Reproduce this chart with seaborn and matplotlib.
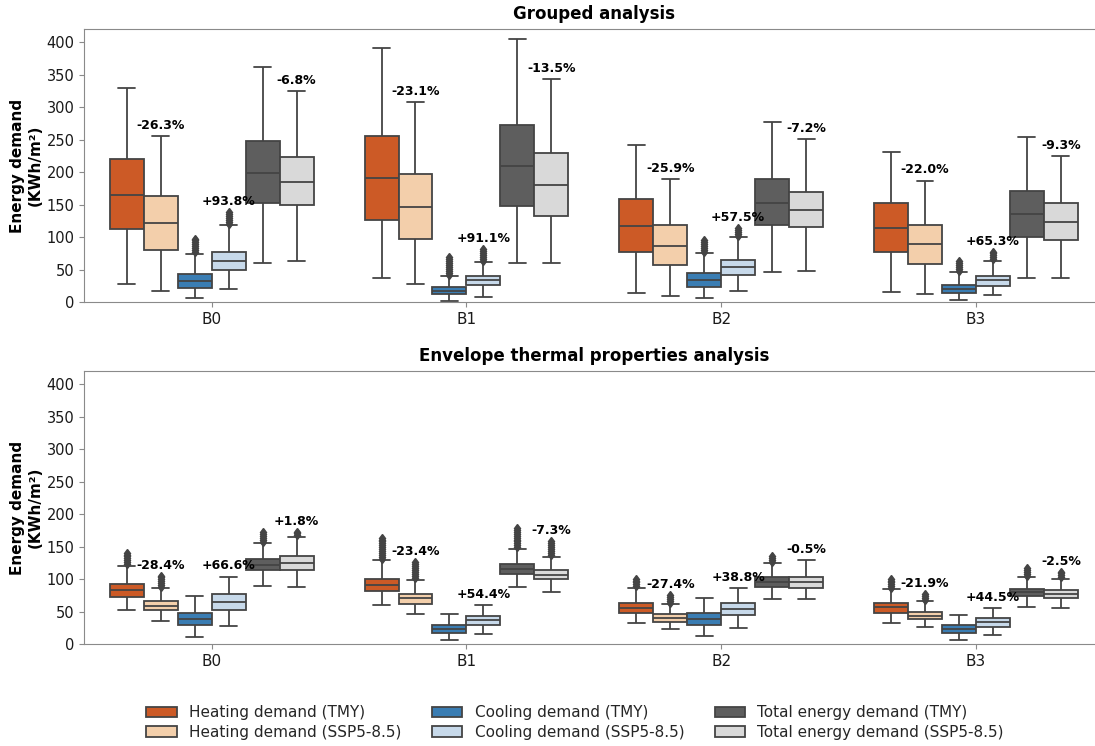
import numpy as np
import pandas as pd
import matplotlib
matplotlib.use("Agg")
import matplotlib.pyplot as plt
import seaborn as sns

# ---------------- data ----------------
groups = ["B0", "B1", "B2", "B3"]
series = ["Heating demand (TMY)", "Heating demand (SSP5-8.5)",
          "Cooling demand (TMY)", "Cooling demand (SSP5-8.5)",
          "Total energy demand (TMY)", "Total energy demand (SSP5-8.5)"]
palette = ["#cc5a26", "#f3cfab", "#3a7db3", "#c7d9ea", "#5e5e5e", "#d9d9d9"]

# box stats per series: (whisker low, q1, median, q3, whisker high) for B0..B3
# --- Grouped analysis ---
g_heat_tmy = [(28, 112, 165, 220, 329), (38, 127, 191, 256, 390), (15, 78, 117, 159, 242), (16, 77, 114, 153, 231)]
g_heat_ssp = [(18, 81, 122, 163, 256), (28, 97, 147, 197, 308), (10, 57, 87, 118, 189), (12, 59, 89, 119, 187)]
g_cool_tmy = [(6, 22.5, 32, 43.5, 74.8), (2, 12.3, 18, 23.5, 40), (6, 24, 34, 45, 76), (3.5, 14.3, 21, 27.1, 46)]
g_cool_ssp = [(20.5, 49, 63, 77.5, 119), (8.7, 26, 34, 41, 62), (18, 42, 54, 65.5, 100), (10.7, 25.5, 34, 41, 64)]
g_tot_tmy = [(60, 152, 198, 248, 361), (61, 148, 209, 272, 405), (47, 119, 153, 189, 277), (38, 101, 136, 171, 254)]
g_tot_ssp = [(63, 150, 185, 223, 325), (60, 133, 180, 230, 343), (48, 115, 142, 170, 251), (38, 96, 123, 152, 225)]
# outliers (None = no outliers)
g_cool_tmy_out = [[77, 80, 83, 86, 89, 92, 95, 98], [42, 45, 48, 51, 54, 57, 60, 63, 66, 69], [78, 81, 84, 87, 90, 93, 96], [48, 51, 54, 57, 60, 63]]
g_cool_ssp_out = [[121, 124, 127, 130, 133, 136, 138], [64, 67, 70, 73, 76, 79, 82], [102, 105, 108, 111, 114], [66, 69, 72, 75, 77]]
g_labels_heat = ["-26.3%", "-23.1%", "-25.9%", "-22.0%"]
g_labels_cool = ["+93.8%", "+91.1%", "+57.5%", "+65.3%"]
g_labels_tot = ["-6.8%", "-13.5%", "-7.2%", "-9.3%"]

# --- Envelope thermal properties analysis ---
e_heat_tmy = [(52, 73, 83.5, 92.3, 120.5), (61, 82, 91, 101, 129), (32, 47.7, 56.3, 64, 87), (33, 48.6, 57, 63, 84.5)]
e_heat_ssp = [(36, 52.3, 59.4, 66, 86.5), (46, 62.5, 70.7, 78, 99.4), (23.5, 35, 41, 46, 62), (26, 38.4, 44, 49.7, 66)]
e_cool_tmy = [(10.7, 29, 39, 48.6, 74), (6.6, 17.4, 23.5, 29.7, 47), (12.8, 30, 39.4, 47.7, 71), (6, 18, 23.5, 29.2, 45.5)]
e_cool_ssp = [(28, 52.3, 64.6, 77, 104), (16.3, 29.7, 37, 44, 60.5), (25.5, 44.6, 54.8, 64, 86.6), (14.8, 27, 33.8, 40.5, 56.3)]
e_tot_tmy = [(90, 114.3, 122.5, 130.7, 155), (87.7, 108.6, 116.3, 124, 146.5), (69, 88.6, 96.3, 103.5, 125.5), (58, 73.8, 80, 85.6, 103)]
e_tot_ssp = [(88.6, 113.8, 125, 135.4, 165.6), (80.5, 100.5, 107.1, 114.8, 134.8), (69, 87.1, 95.4, 104, 129.2), (56.3, 71.7, 77.9, 84, 101)]
e_heat_tmy_out = [[123, 126, 129, 132, 135, 138, 141], [131, 134, 137, 140, 143, 146, 149, 152, 155, 158, 161, 163], [89, 92, 95, 98, 101], [86, 89, 92, 95, 98, 100]]
e_heat_ssp_out = [[88, 91, 94, 97, 100, 103, 105], [102, 105, 108, 111, 114, 117, 120, 123, 126], [64, 67, 70, 73, 76], [68, 71, 74, 77]]
e_tot_tmy_out = [[157, 160, 163, 166, 169, 172], [149, 152, 155, 158, 161, 164, 167, 170, 173, 176, 179], [127, 130, 133, 135], [105, 108, 111, 114, 117]]
e_tot_ssp_out = [[168, 171, 173], [137, 140, 143, 146, 149, 152, 155, 158], None, [103, 106, 109, 111]]
e_labels_heat = ["-28.4%", "-23.4%", "-27.4%", "-21.9%"]
e_labels_cool = ["+66.6%", "+54.4%", "+38.8%", "+44.5%"]
e_labels_tot = ["+1.8%", "-7.3%", "-0.5%", "-2.5%"]


def box_values(stats, outliers):
    """Build a sample whose linear-interpolated quartiles equal the given stats."""
    lo, q1, med, q3, hi = stats
    out = list(outliers) if outliers else []
    m = len(out) + 1
    vals = [lo] + [q1] * m + [med] * m + [q3] * m + [hi] + out
    return vals


def build_frame(stat_lists, out_lists):
    rows = []
    for s_name, stats, outs in zip(series, stat_lists, out_lists):
        for gi, g in enumerate(groups):
            o = outs[gi] if outs is not None else None
            for v in box_values(stats[gi], o):
                rows.append((g, s_name, v))
    return pd.DataFrame(rows, columns=["group", "series", "value"])


df_g = build_frame([g_heat_tmy, g_heat_ssp, g_cool_tmy, g_cool_ssp, g_tot_tmy, g_tot_ssp],
                   [None, None, g_cool_tmy_out, g_cool_ssp_out, None, None])
df_e = build_frame([e_heat_tmy, e_heat_ssp, e_cool_tmy, e_cool_ssp, e_tot_tmy, e_tot_ssp],
                   [e_heat_tmy_out, e_heat_ssp_out, None, None, e_tot_tmy_out, e_tot_ssp_out])

# ---------------- style ----------------
sns.set_style("ticks")
plt.rcParams["font.family"] = ["DejaVu Sans"]
plt.rcParams["axes.edgecolor"] = "#8a8a8a"
plt.rcParams["xtick.color"] = "#8a8a8a"
plt.rcParams["ytick.color"] = "#8a8a8a"
plt.rcParams["xtick.labelcolor"] = "#1a1a1a"
plt.rcParams["ytick.labelcolor"] = "#1a1a1a"

fig = plt.figure(figsize=(10.95, 7.46), dpi=100)
ax1 = fig.add_axes([0.077, 0.5948, 0.9306, 0.3664])
ax2 = fig.add_axes([0.077, 0.1363, 0.9306, 0.3664])

width = 0.8
nser = len(series)
line_col = "#444444"


def draw(ax, df, title, lab_h, lab_c, lab_t, legend):
    sns.boxplot(data=df, x="group", y="value", hue="series", order=groups,
                hue_order=series, palette=palette, saturation=1, width=width,
                gap=0, linewidth=1.3, linecolor=line_col, ax=ax, legend=legend,
                flierprops=dict(marker="d", markerfacecolor=line_col,
                                markeredgecolor=line_col, markersize=4.5))
    ax.set_ylim(0, 420)
    ax.set_xlim(-0.5, 3.5)
    ax.set_yticks(np.arange(0, 401, 50))
    ax.set_title(title, fontsize=12, fontweight="bold", pad=7, color="black")
    ax.set_xlabel("")
    ax.set_ylabel("Energy demand\n(KWh/m²)", fontsize=11, fontweight="bold",
                  color="black", labelpad=3)
    ax.tick_params(axis="x", labelsize=11)
    ax.tick_params(axis="y", labelsize=10.5)
    for sp in ax.spines.values():
        sp.set_visible(True)
    # annotations above SSP boxes
    for k, labs in zip([1, 3, 5], [lab_h, lab_c, lab_t]):
        sub = df[df["series"] == series[k]]
        for gi, g in enumerate(groups):
            top = sub[sub["group"] == g]["value"].max()
            x = gi - width / 2 + (k + 0.5) * width / nser
            ax.annotate(labs[gi], (x, top), xytext=(0, 3), textcoords="offset points",
                        ha="center", va="bottom", fontsize=9, fontweight="bold",
                        color="black")


draw(ax1, df_g, "Grouped analysis", g_labels_heat, g_labels_cool, g_labels_tot, True)
draw(ax2, df_e, "Envelope thermal properties analysis", e_labels_heat, e_labels_cool,
     e_labels_tot, False)

leg = ax1.get_legend()
handles = leg.legend_handles
labels = [t.get_text() for t in leg.get_texts()]
leg.remove()
fig.legend(handles, labels, loc="center", bbox_to_anchor=(575 / 1095, 0.0315),
           ncol=3, frameon=False, fontsize=11, handlelength=2.0,
           columnspacing=2.0, labelspacing=0.3)

fig.savefig("out.png", dpi=100)
